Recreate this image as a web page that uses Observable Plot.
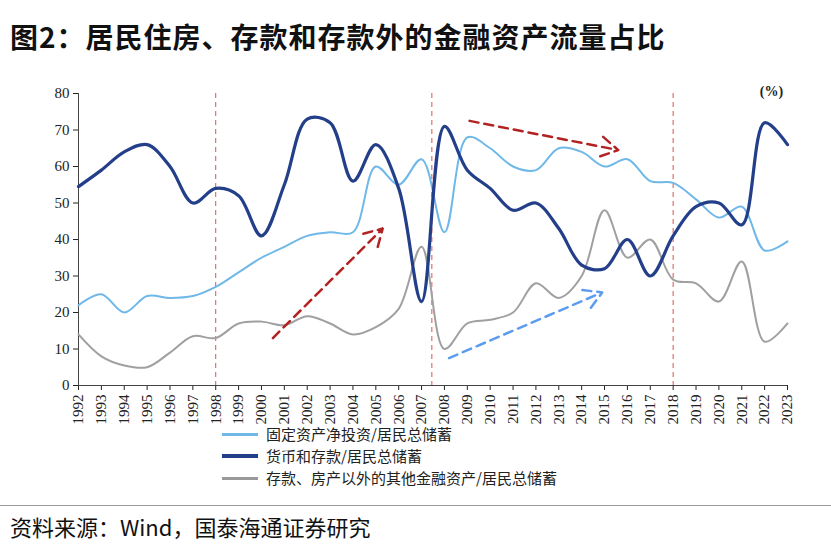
<!DOCTYPE html><html><head><meta charset="utf-8">
<script src="https://cdn.jsdelivr.net/npm/d3@7"></script>
<script src="https://cdn.jsdelivr.net/npm/@observablehq/plot@0.6"></script>
<style>body{margin:0;background:#fff;font-family:"Noto Sans CJK SC",sans-serif}
#t{position:absolute;left:10px;top:16px;font-size:28px;font-weight:bold;color:#111;letter-spacing:1px}
#c{position:absolute;left:0;top:75px}
#lg{position:absolute;left:222px;top:423px;font-size:15px;color:#222;line-height:22px}
#lg div{display:flex;align-items:center}#lg span{display:inline-block;width:36px;height:3px;margin-right:8px}
#src{position:absolute;left:10px;top:510px;font-size:22px;color:#111}
#hr{position:absolute;left:0;top:505px;width:831px;border-top:1px solid #999}</style></head><body>
<div id="t">图2：居民住房、存款和存款外的金融资产流量占比</div>
<div id="c"></div>
<div id="lg"><div><span style="background:#6fb8e8"></span>固定资产净投资/居民总储蓄</div><div><span style="background:#243f8a;height:4px"></span>货币和存款/居民总储蓄</div><div><span style="background:#999"></span>存款、房产以外的其他金融资产/居民总储蓄</div></div>
<div id="hr"></div>
<div id="src">资料来源：Wind，国泰海通证券研究</div>
<script>
const years=d3.range(1992,2024);
const fixedAsset=[22,25,20,24.5,24,24.5,27,31,35,38,41,42,42,60,55,62,42,68,65,60,59,65,64,60,62,56,55.5,51,46,49,37,39.5];
const deposits=[54.5,59,64,66,60,50,54,52,41,55,73,72,56,66,54,23,71,59,54,48,50,43,33,32,40,30,41,49,50,44,72,66];
const otherFin=[14,8,5.5,5,9,13.5,13,17,17.5,16.5,19,17,14,16,21,38,10,17,18,20,28,24,30,48,35,40,29,28,23,34,12,17];
const dividers=[1998,2007.45,2018];
const arrows=[{x1:2000.5,y1:13,x2:2005.3,y2:43,c:"#b22222"},{x1:2009.1,y1:72.5,x2:2015.6,y2:64.5,c:"#b22222"},{x1:2008.2,y1:7.5,x2:2014.9,y2:25.5,c:"#5b9cf0"}];
const mk=(v,s)=>years.map((y,i)=>({y,v:v[i],s}));
const data=[...mk(otherFin,"o"),...mk(fixedAsset,"f"),...mk(deposits,"d")];
const col={o:"#a0a0a0",f:"#6fb8e8",d:"#243f8a"};
const chart=Plot.plot({width:831,height:345,marginTop:18,marginLeft:78,marginRight:44,marginBottom:35,
 style:{fontSize:"15px",fontFamily:"Liberation Serif, serif",color:"#222",overflow:"visible"},
 x:{domain:[1992,2023],ticks:years,tickFormat:d=>String(d),tickRotate:-90,label:null,tickSize:5},
 y:{domain:[0,80],ticks:d3.range(0,81,10),label:null,tickSize:5},
 marks:[
  Plot.ruleY([0],{stroke:"#444"}),Plot.ruleX([1992],{stroke:"#444"}),
  Plot.ruleX(dividers,{stroke:"#d9534f",strokeDasharray:"5,4",strokeWidth:1}),
  Plot.line(data.filter(d=>d.s=="o"),{x:"y",y:"v",stroke:col.o,strokeWidth:2,curve:"catmull-rom"}),
  Plot.line(data.filter(d=>d.s=="f"),{x:"y",y:"v",stroke:col.f,strokeWidth:2,curve:"catmull-rom"}),
  Plot.line(data.filter(d=>d.s=="d"),{x:"y",y:"v",stroke:col.d,strokeWidth:3.2,curve:"catmull-rom"}),
  Plot.arrow(arrows,{x1:"x1",y1:"y1",x2:"x2",y2:"y2",stroke:"c",strokeWidth:2.5,strokeDasharray:"9,6",headLength:12}),
  Plot.text(["(%)"],{x:2022.3,y:80,text:d=>d,fontSize:14,fontWeight:"bold",dy:-2})
 ]});
document.getElementById("c").appendChild(chart);
</script></body></html>
